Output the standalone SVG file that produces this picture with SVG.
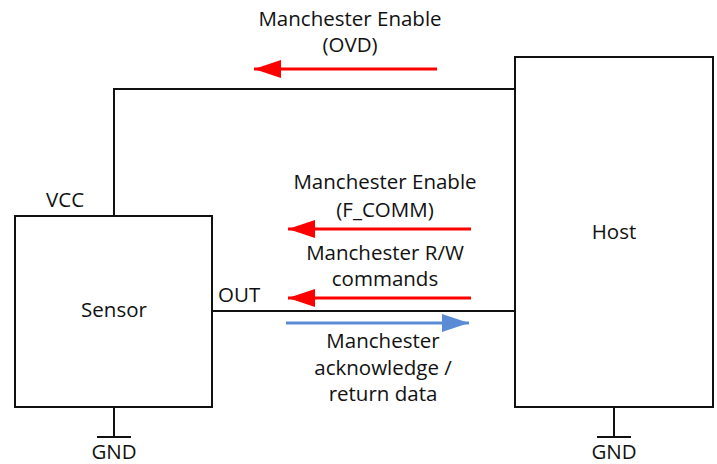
<svg xmlns="http://www.w3.org/2000/svg" width="717" height="464" viewBox="0 0 717 464">
<style>
text{font-family:"Open Sans",Lato,"Liberation Sans",sans-serif;font-size:20.5px;fill:#111}
.c{text-anchor:middle}
.box{fill:#fff;stroke:#111;stroke-width:2}
.w{fill:none;stroke:#111;stroke-width:2}
.red{stroke:#f00;stroke-width:3;fill:none}
.blue{stroke:#5b8bd5;stroke-width:3;fill:none}
</style>
<defs>
<marker id="ar" viewBox="0 0 27 18" refX="27" refY="9" markerWidth="27" markerHeight="18" markerUnits="userSpaceOnUse" orient="auto"><path d="M0,0L27,9L0,18z" fill="#f00"/></marker>
<marker id="ab" viewBox="0 0 27 18" refX="27" refY="9" markerWidth="27" markerHeight="18" markerUnits="userSpaceOnUse" orient="auto"><path d="M0,0L27,9L0,18z" fill="#5b8bd5"/></marker>
</defs>
<g id="connectors">
<path class="w" d="M114,216V89H515"/>
<path class="w" d="M212,311H515"/>
<path class="w" d="M114,407V437M97,437H131"/>
<path class="w" d="M614,407V437M597,437H631"/>
<path class="red" d="M437,69H254" marker-end="url(#ar)"/>
<path class="red" d="M471,229H288" marker-end="url(#ar)"/>
<path class="red" d="M471,298H288" marker-end="url(#ar)"/>
<path class="blue" d="M286,323H469" marker-end="url(#ab)"/>
</g>
<g id="sensor">
<rect class="box" x="15" y="216" width="197" height="191"/>
<text class="c" x="114" y="317">Sensor</text>
</g>
<g id="host">
<rect class="box" x="515" y="57" width="198" height="350"/>
<text class="c" x="614" y="239">Host</text>
</g>
<g id="labels">
<text class="c" x="350" y="26">Manchester Enable</text>
<text class="c" x="350" y="52">(OVD)</text>
<text class="c" x="385" y="189">Manchester Enable</text>
<text class="c" x="385" y="217">(F_COMM)</text>
<text class="c" x="385" y="260">Manchester R/W</text>
<text class="c" x="385" y="286">commands</text>
<text class="c" x="383" y="348">Manchester</text>
<text class="c" x="383" y="375">acknowledge /</text>
<text class="c" x="383" y="401">return data</text>
<text x="46" y="207">VCC</text>
<text x="218" y="302">OUT</text>
<text class="c" x="114" y="459">GND</text>
<text class="c" x="614" y="459">GND</text>
</g>
</svg>
